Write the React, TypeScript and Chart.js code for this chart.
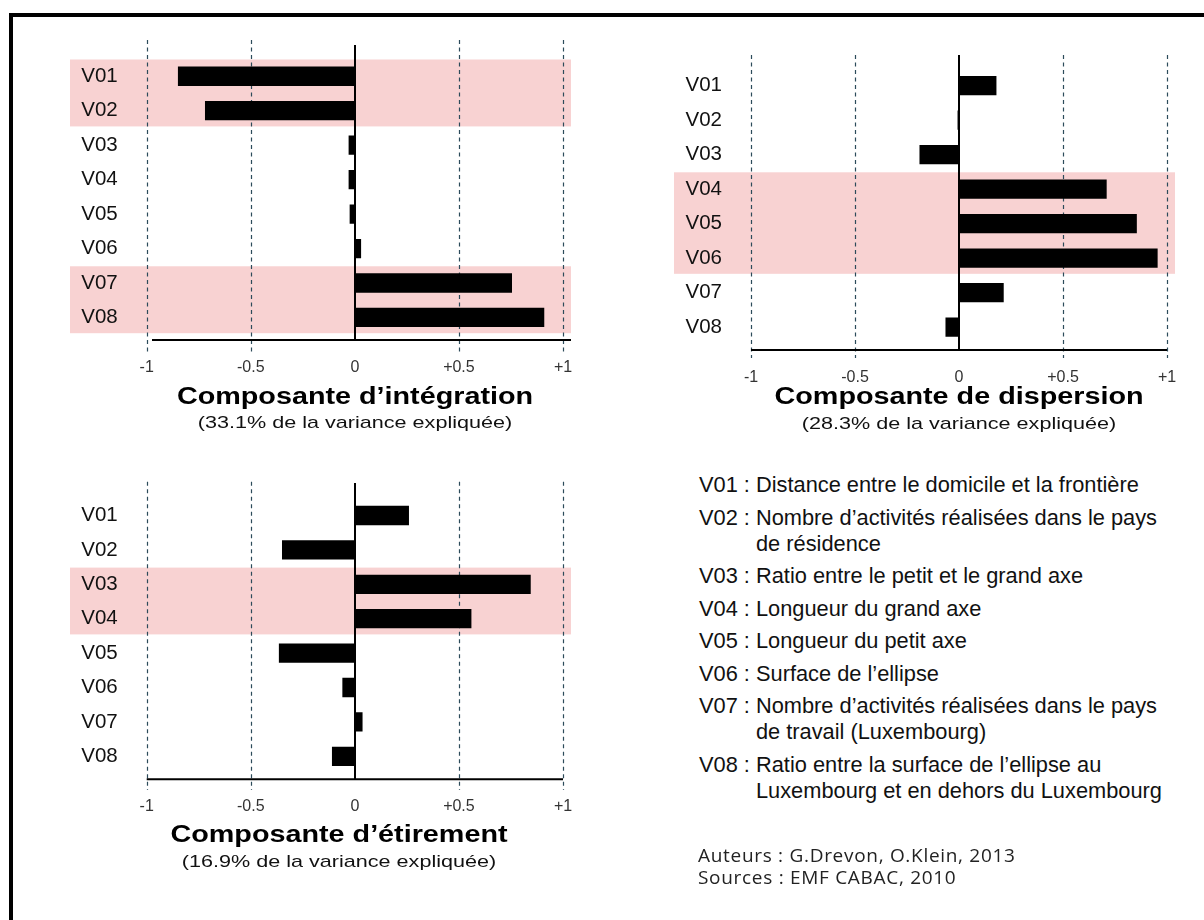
import React, { useEffect, useRef } from 'react';
import { Chart, registerables } from 'chart.js';

Chart.register(...registerables);

// ---------- data ----------
const CATEGORIES = ['V01', 'V02', 'V03', 'V04', 'V05', 'V06', 'V07', 'V08'];
const INTEGRATION_VALUES = [-0.85, -0.72, -0.03, -0.03, -0.025, 0.03, 0.755, 0.91];
const DISPERSION_VALUES = [0.18, -0.007, -0.19, 0.71, 0.855, 0.955, 0.215, -0.065];
const ETIREMENT_VALUES = [0.26, -0.35, 0.845, 0.56, -0.365, -0.06, 0.037, -0.11];
const X_TICK_VALUES = [-1, -0.5, 0, 0.5, 1];
const X_TICK_LABELS = ['-1', '-0.5', '0', '+0.5', '+1'];
const INTEGRATION_HIGHLIGHT = [['V01', 'V02'], ['V07', 'V08']];
const DISPERSION_HIGHLIGHT = [['V04', 'V06']];
const ETIREMENT_HIGHLIGHT = [['V03', 'V04']];
const INTEGRATION_TITLE = 'Composante d’intégration';
const DISPERSION_TITLE = 'Composante de dispersion';
const ETIREMENT_TITLE = 'Composante d’étirement';
const INTEGRATION_SUBTITLE = '(33.1% de la variance expliquée)';
const DISPERSION_SUBTITLE = '(28.3% de la variance expliquée)';
const ETIREMENT_SUBTITLE = '(16.9% de la variance expliquée)';
const LEGEND_CODES = ['V01', 'V02', 'V03', 'V04', 'V05', 'V06', 'V07', 'V08'];
const LEGEND_TEXTS = [
  ['Distance entre le domicile et la frontière'],
  ['Nombre d’activités réalisées dans le pays', 'de résidence'],
  ['Ratio entre le petit et le grand axe'],
  ['Longueur du grand axe'],
  ['Longueur du petit axe'],
  ['Surface de l’ellipse'],
  ['Nombre d’activités réalisées dans le pays', 'de travail (Luxembourg)'],
  ['Ratio entre la surface de l’ellipse au', 'Luxembourg et en dehors du Luxembourg'],
];
const CREDITS = ['Auteurs : G.Drevon, O.Klein, 2013', 'Sources : EMF CABAC, 2010'];

// ---------- styles ----------
const BAND_COLOR = '#f8d2d2';
const GRID_COLOR = '#2c4b5a';
const BAR_COLOR = '#000000';
const MARGIN_LEFT = 90;
const MARGIN_TOP = 52;
const MARGIN_RIGHT = 46;
const MARGIN_BOTTOM = 62;
const X_AXIS_H = 40;

type PanelCfg = {
  values: number[];
  highlight: string[][];
  area: { left: number; right: number; top: number; bottom: number };
  band: { left: number; right: number };
  axisLine: { left: number; right: number; y: number };
  zeroTop: number;
  gridTop: number;
  gridBottom: number;
  tickLabelY: number;
};

const PANELS: PanelCfg[] = [
  {
    values: INTEGRATION_VALUES,
    highlight: INTEGRATION_HIGHLIGHT,
    area: { left: 146.7, right: 563, top: 59, bottom: 334.7 },
    band: { left: 70, right: 571 },
    axisLine: { left: 152, right: 571, y: 340 },
    zeroTop: 45,
    gridTop: 40,
    gridBottom: 353,
    tickLabelY: 368,
  },
  {
    values: DISPERSION_VALUES,
    highlight: DISPERSION_HIGHLIGHT,
    area: { left: 751, right: 1167, top: 68.3, bottom: 344.3 },
    band: { left: 674, right: 1175 },
    axisLine: { left: 751, right: 1167, y: 350 },
    zeroTop: 55,
    gridTop: 55,
    gridBottom: 358,
    tickLabelY: 378,
  },
  {
    values: ETIREMENT_VALUES,
    highlight: ETIREMENT_HIGHLIGHT,
    area: { left: 146.7, right: 563, top: 498.3, bottom: 773.5 },
    band: { left: 70, right: 571 },
    axisLine: { left: 146.7, right: 563, y: 779.3 },
    zeroTop: 483,
    gridTop: 481.7,
    gridBottom: 790,
    tickLabelY: 806.7,
  },
];

const TITLES = [
  { title: INTEGRATION_TITLE, subtitle: INTEGRATION_SUBTITLE, cx: 355, ty: 398, sy: 425 },
  { title: DISPERSION_TITLE, subtitle: DISPERSION_SUBTITLE, cx: 959, ty: 398, sy: 426 },
  { title: ETIREMENT_TITLE, subtitle: ETIREMENT_SUBTITLE, cx: 339, ty: 836, sy: 864 },
];

function Panel({ cfg }: { cfg: PanelCfg }) {
  const ref = useRef<HTMLCanvasElement | null>(null);
  const cl = Math.floor(cfg.area.left - MARGIN_LEFT);
  const ct = Math.floor(cfg.area.top - MARGIN_TOP);
  const cw = Math.ceil(cfg.area.right + MARGIN_RIGHT) - cl;
  const ch = Math.ceil(cfg.area.bottom + MARGIN_BOTTOM) - ct;

  useEffect(() => {
    if (!ref.current) return;
    const basePadLeft = 10;
    const want = {
      left: cfg.area.left - cl,
      right: cfg.area.right - cl,
      top: cfg.area.top - ct,
      bottom: cfg.area.bottom - ct,
    };
    const yAxisW = want.left - basePadLeft;
    const pad = {
      left: basePadLeft,
      top: want.top,
      right: cw - want.right,
      bottom: ch - want.bottom - X_AXIS_H,
    };
    const tickPad = cfg.tickLabelY - cfg.area.bottom - 9.6;

    const decor = {
      id: 'panelDecor',
      beforeDraw(chart: any) {
        const { ctx, scales } = chart;
        const xs = scales.x;
        const ys = scales.y;
        const step = ys.getPixelForTick(1) - ys.getPixelForTick(0);
        ctx.save();
        ctx.fillStyle = BAND_COLOR;
        for (const [a, b] of cfg.highlight) {
          const ia = CATEGORIES.indexOf(a);
          const ib = CATEGORIES.indexOf(b);
          const top = ys.getPixelForTick(ia) - step / 2 + 0.5;
          const bottom = ys.getPixelForTick(ib) + step / 2 - 1.5;
          ctx.fillRect(cfg.band.left - cl, top, cfg.band.right - cfg.band.left, bottom - top);
        }
        ctx.strokeStyle = GRID_COLOR;
        ctx.lineWidth = 1.2;
        ctx.setLineDash([4, 3.5]);
        for (const v of X_TICK_VALUES) {
          if (v === 0) continue;
          const px = Math.round(xs.getPixelForValue(v)) + 0.5;
          ctx.beginPath();
          ctx.moveTo(px, cfg.gridTop - ct);
          ctx.lineTo(px, cfg.gridBottom - ct);
          ctx.stroke();
        }
        ctx.restore();
      },
      afterDatasetsDraw(chart: any) {
        const { ctx, scales } = chart;
        const xs = scales.x;
        ctx.save();
        ctx.strokeStyle = '#000';
        ctx.lineWidth = 2;
        const zx = Math.round(xs.getPixelForValue(0));
        ctx.beginPath();
        ctx.moveTo(zx, cfg.zeroTop - ct);
        ctx.lineTo(zx, cfg.axisLine.y - ct);
        ctx.stroke();
        ctx.beginPath();
        ctx.moveTo(cfg.axisLine.left - cl, cfg.axisLine.y - ct);
        ctx.lineTo(cfg.axisLine.right - cl, cfg.axisLine.y - ct);
        ctx.stroke();
        ctx.restore();
      },
    };

    const options: any = {
      indexAxis: 'y',
      responsive: false,
      animation: false,
      devicePixelRatio: 1,
      layout: { padding: { ...pad } },
      plugins: { legend: { display: false }, tooltip: { enabled: false }, title: { display: false } },
      scales: {
        x: {
          type: 'linear',
          min: -1,
          max: 1,
          grid: { display: false, drawTicks: false },
          border: { display: false },
          ticks: {
            stepSize: 0.5,
            padding: tickPad,
            color: '#333',
            font: { family: '"Liberation Sans", Arial, sans-serif', size: 16 },
            callback: (value: any) => {
              const i = X_TICK_VALUES.findIndex((t) => Math.abs(t - Number(value)) < 1e-9);
              return i >= 0 ? X_TICK_LABELS[i] : '';
            },
          },
          afterFit: (scale: any) => {
            scale.height = X_AXIS_H;
          },
        },
        y: {
          type: 'category',
          grid: { display: false, drawTicks: false },
          border: { display: false },
          ticks: {
            padding: 29,
            color: '#111',
            font: { family: '"Liberation Sans", Arial, sans-serif', size: 20.5 },
          },
          afterFit: (scale: any) => {
            scale.width = yAxisW;
          },
        },
      },
    };

    const chart = new Chart(ref.current, {
      type: 'bar',
      data: {
        labels: CATEGORIES,
        datasets: [
          {
            data: cfg.values,
            backgroundColor: BAR_COLOR,
            borderWidth: 0,
            barPercentage: 0.56,
            categoryPercentage: 1,
          },
        ],
      },
      options,
      plugins: [decor],
    } as any);

    // nudge the layout so that the scales' value ranges land where wanted
    for (let k = 0; k < 5; k++) {
      const xs: any = chart.scales.x;
      const ys: any = chart.scales.y;
      const step = ys.getPixelForTick(1) - ys.getPixelForTick(0);
      const curLeft = xs.getPixelForValue(-1);
      const curRight = xs.getPixelForValue(1);
      const curTop = ys.getPixelForTick(0) - step / 2;
      const curBottom = ys.getPixelForTick(CATEGORIES.length - 1) + step / 2;
      const dTop = want.top - curTop;
      const dBottom = want.bottom - curBottom;
      const dLeft = want.left - curLeft;
      const dRight = want.right - curRight;
      if (Math.abs(dTop) + Math.abs(dBottom) + Math.abs(dLeft) + Math.abs(dRight) < 0.3) break;
      pad.top += dTop;
      pad.bottom -= dBottom;
      pad.left += dLeft;
      pad.right -= dRight;
      options.layout.padding = { ...pad };
      chart.options = options;
      chart.update();
    }
    return () => chart.destroy();
  }, [cfg]);

  return (
    <canvas
      ref={ref}
      width={cw}
      height={ch}
      style={{ position: 'absolute', left: cl, top: ct, width: cw, height: ch }}
    />
  );
}

function TitleBlock({ t }: { t: (typeof TITLES)[number] }) {
  return (
    <>
      <div
        style={{
          position: 'absolute',
          left: t.cx - 300,
          top: t.ty - 15,
          width: 600,
          height: 30,
          lineHeight: '30px',
          textAlign: 'center',
          whiteSpace: 'nowrap',
          font: 'bold 23px "Liberation Sans", Arial, sans-serif',
          color: '#000',
          transform: 'scaleX(1.25)',
        }}
      >
        {t.title}
      </div>
      <div
        style={{
          position: 'absolute',
          left: t.cx - 300,
          top: t.sy - 12,
          width: 600,
          height: 24,
          lineHeight: '24px',
          textAlign: 'center',
          whiteSpace: 'nowrap',
          font: '17px "Liberation Sans", Arial, sans-serif',
          color: '#111',
          transform: 'scaleX(1.27)',
        }}
      >
        {t.subtitle}
      </div>
    </>
  );
}

function Legend() {
  return (
    <div
      style={{
        position: 'absolute',
        left: 699,
        top: 472,
        font: '21.8px "Liberation Sans", Arial, sans-serif',
        color: '#111',
        lineHeight: '26px',
        whiteSpace: 'nowrap',
      }}
    >
      {LEGEND_CODES.map((code, i) => (
        <div key={code} style={{ display: 'flex', marginTop: i === 0 ? 0 : 6.5 }}>
          <span>{code}&nbsp;:&nbsp;</span>
          <div>
            {LEGEND_TEXTS[i].map((line, j) => (
              <div key={j}>{line}</div>
            ))}
          </div>
        </div>
      ))}
    </div>
  );
}

function Credits() {
  return (
    <div
      style={{
        position: 'absolute',
        left: 698,
        top: 844,
        font: '19px "Open Sans", "Noto Sans", sans-serif',
        letterSpacing: '0.7px',
        color: '#222',
        lineHeight: '22px',
        whiteSpace: 'nowrap',
      }}
    >
      {CREDITS.map((c) => (
        <div key={c}>{c}</div>
      ))}
    </div>
  );
}

export default function App() {
  return (
    <div style={{ position: 'absolute', left: 0, top: 0, width: 1204, height: 920, background: '#fff', overflow: 'hidden' }}>
      <div
        style={{
          position: 'absolute',
          left: 9,
          top: 13,
          right: 0,
          bottom: 0,
          borderLeft: '4px solid #000',
          borderTop: '4px solid #000',
        }}
      />
      {PANELS.map((p, i) => (
        <Panel key={i} cfg={p} />
      ))}
      {TITLES.map((t, i) => (
        <TitleBlock key={i} t={t} />
      ))}
      <Legend />
      <Credits />
    </div>
  );
}
